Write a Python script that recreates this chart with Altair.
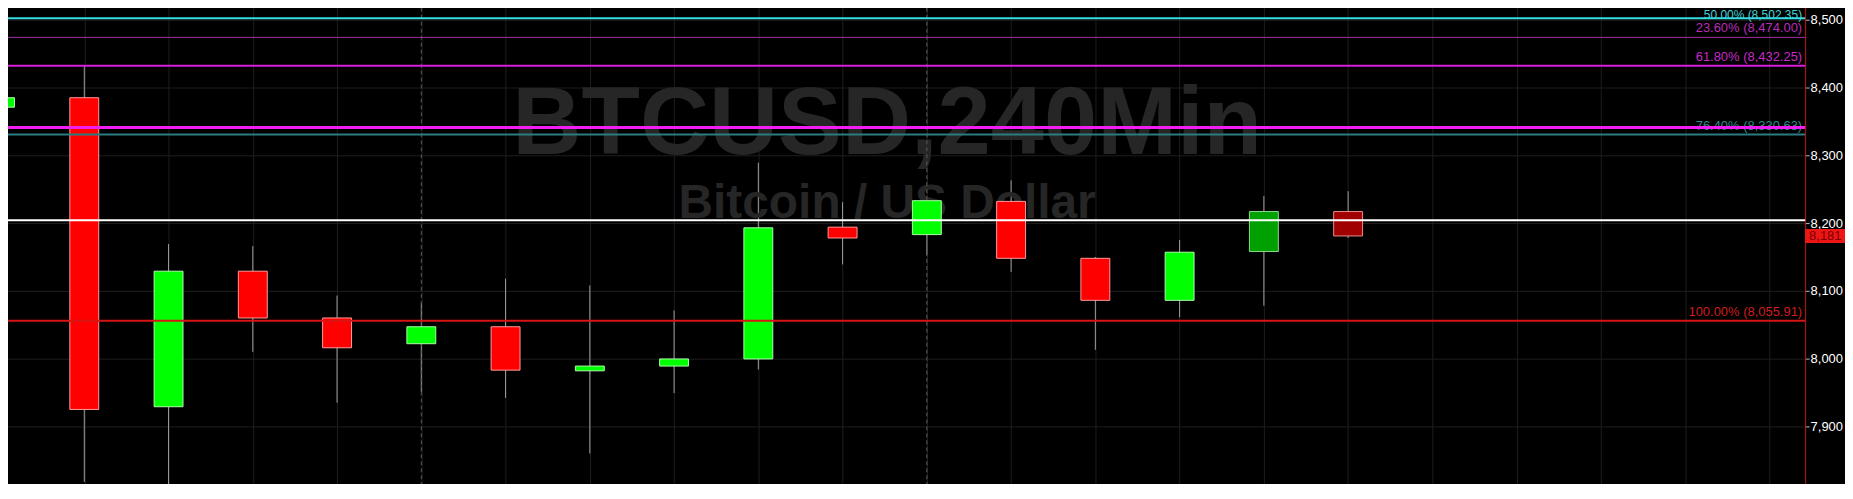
import altair as alt
import pandas as pd

# ---- candle data (4h BTCUSD) ----
slot   = [-1, 0, 1, 2, 3, 4, 5, 6, 7, 8, 9, 10, 11, 12, 13, 14, 15]
opens  = [8371, 8385, 7929, 8129, 8060, 8022, 8047, 7982, 7989, 7999.5, 8194, 8183, 8232, 8148, 8086, 8158, 8217]
highs  = [8392, 8432, 8169, 8166, 8093, 8082, 8118, 8108, 8071, 8289, 8231, 8236, 8263, 8150, 8175, 8240, 8247]
lows   = [8360, 7818, 7800, 8010, 7935, 7951, 7942, 7860, 7949, 7984, 8139, 8153, 8128, 8013, 8061, 8078, 8178]
closes = [8385, 7925, 8129, 8060, 8016, 8047, 7983, 7989, 7999.5, 8193, 8178, 8233, 8148, 8086, 8157, 8217, 8181]
kinds  = ["up", "down", "up", "down", "down", "up", "down", "up", "up", "up", "down", "up", "down", "down", "up", "up_dark", "down_dark"]

# ---- horizontal levels ----
lvl_values = [8502.35, 8474.00, 8432.25, 8341.0, 8330.63, 8204.0, 8055.91]
lvl_colors = ["#35dde3", "#a52ea5", "#d81ed8", "#f01ef0", "#2a7c80", "#ffffff", "#d81414"]
lvl_widths = [2, 1, 2, 3, 2, 2, 2]
top_value = [8502.35]
top_label = ["50.00% (8,502.35)"]
top_color = ["#45d3da"]
fib_values = [8474.00, 8432.25, 8330.63, 8055.91]
fib_labels = ["23.60% (8,474.00)", "61.80% (8,432.25)", "76.40% (8,330.63)", "100.00% (8,055.91)"]
fib_colors = ["#b92bb9", "#c82ac8", "#2e8a8f", "#cf1c1c"]

separators = [4, 10]
y_ticks = [7900, 8000, 8100, 8200, 8300, 8400, 8500]
x_slots = list(range(0, 21))
last_price = [8181]
last_label = ["8,181"]
title_main = ["BTCUSD,240Min"]
title_sub = ["Bitcoin / US Dollar"]

candles = pd.DataFrame({"k": slot, "o": opens, "h": highs, "l": lows, "c": closes, "kind": kinds})
levels = pd.DataFrame({"v": lvl_values, "col": lvl_colors, "w": lvl_widths})
fibs = pd.DataFrame({"v": fib_values, "lab": fib_labels, "col": fib_colors})
fib_top = pd.DataFrame({"v": top_value, "lab": top_label, "col": top_color})
seps = pd.DataFrame({"k": separators})
price = pd.DataFrame({"v": last_price, "lab": last_label})

xscale = alt.Scale(domain=[-0.941, 20.365], nice=False, zero=False)
yscale = alt.Scale(domain=[7797, 8528], nice=False, zero=False)

xaxis = alt.Axis(values=x_slots, grid=True, gridColor="#1e1e1e", gridWidth=1, labels=False, ticks=False,
                 domainColor="#c81414", domainWidth=1, title=None)
yaxis = alt.Axis(values=y_ticks, orient="right", grid=True, gridColor="#1e1e1e", gridWidth=1,
                 domainColor="#c81414", domainWidth=1, tickColor="#bbbbbb", tickSize=4,
                 labelColor="#ffffff", labelFontSize=13, labelFont="Liberation Sans", labelPadding=1,
                 labelExpr="format(datum.value, ',.0f')", title=None)

X = lambda f: alt.X(f, scale=xscale, axis=xaxis)
Y = lambda f: alt.Y(f, scale=yscale, axis=yaxis)

base = alt.Chart(candles)

wicks = base.mark_rule(color="#a0a0a0", strokeWidth=1).encode(
    x=X("k:Q"), y=Y("l:Q"), y2="h:Q",
)

wm1 = alt.Chart(pd.DataFrame({"t": title_main})).mark_text(
    font="Liberation Sans", fontWeight="bold", fontSize=96,
    color="#262626", align="center", baseline="alphabetic"
).encode(text="t:N", x=alt.value(890), y=alt.value(154))

wm2 = alt.Chart(pd.DataFrame({"t": title_sub})).mark_text(
    font="Liberation Sans", fontWeight="bold", fontSize=48,
    color="#262626", align="center", baseline="alphabetic"
).encode(text="t:N", x=alt.value(890), y=alt.value(218))

sep = alt.Chart(seps).mark_rule(color="#5a5a5a", strokeWidth=1, strokeDash=[4, 3]).encode(x=X("k:Q"))

kind_dom = ["up", "down", "up_dark", "down_dark"]
bodies = base.mark_bar(size=29, strokeWidth=1).encode(
    x=X("k:Q"), y=Y("o:Q"), y2="c:Q",
    fill=alt.Fill("kind:N", scale=alt.Scale(domain=kind_dom, range=["#00ff00", "#ff0000", "#00a000", "#a00000"]), legend=None),
    stroke=alt.Stroke("kind:N", scale=alt.Scale(domain=kind_dom, range=["#a8ffa8", "#ff9a9a", "#8fd88f", "#e88c8c"]), legend=None),
)

fib_text = alt.Chart(fibs).mark_text(align="right", baseline="alphabetic", dy=-5, fontSize=13,
                                     font="Liberation Sans").encode(
    x=alt.value(1808), y=Y("v:Q"), text="lab:N", color=alt.Color("col:N", scale=None),
)
fib_text_top = alt.Chart(fib_top).mark_text(align="right", baseline="alphabetic", dy=1, fontSize=12,
                                            font="Liberation Sans").encode(
    x=alt.value(1808), y=Y("v:Q"), text="lab:N", color=alt.Color("col:N", scale=None),
)

lines = alt.Chart(levels).mark_rule().encode(
    y=Y("v:Q"),
    color=alt.Color("col:N", scale=None),
    strokeWidth=alt.StrokeWidth("w:Q", scale=None),
)

tag = alt.Chart(price).mark_rule(color="#ee1515", strokeWidth=14).encode(
    x=alt.value(1811), x2=alt.value(1860), y=Y("v:Q"),
)
tag_text = alt.Chart(price).mark_text(align="left", baseline="middle", fontSize=13, font="Liberation Sans",
                                      color="#7a0000").encode(
    x=alt.value(1815), y=Y("v:Q"), text="lab:N",
)

chart = alt.layer(wicks, wm1, wm2, sep, bodies, fib_text, fib_text_top, lines, tag, tag_text).properties(
    width=1811, height=497,
    autosize=alt.AutoSizeParams(type="none"),
    padding={"left": -8, "top": -8, "right": 40, "bottom": -13},
    background="#000000",
).configure_view(strokeWidth=0)

chart.save("out.html", embed_options={"renderer": "svg", "actions": False})
